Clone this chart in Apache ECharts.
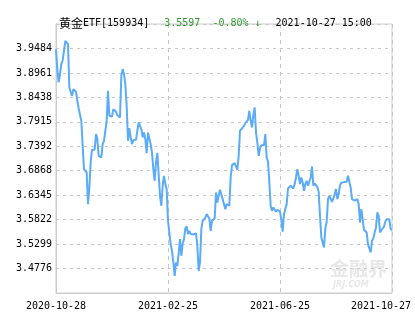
<!DOCTYPE html>
<html>
<head>
<meta charset="utf-8">
<script src="https://cdn.jsdelivr.net/npm/echarts@6/dist/echarts.min.js"></script>
<style>
  html, body { margin: 0; padding: 0; background: #fff; }
  #chart { width: 415px; height: 330px; }
</style>
</head>
<body>
<div id="chart"></div>
<script>
// 收盘价（按交易日）
var prices = [
  3.9470, 3.9042, 3.8757, 3.8935, 3.9149, 3.9227, 3.9242, 3.9648, 3.9627, 3.9577,
  3.8650, 3.8557, 3.8471, 3.8614, 3.8614, 3.8557, 3.8365, 3.8201, 3.8186, 3.7937,
  3.7402, 3.6903, 3.6867, 3.6832, 3.6154, 3.6511, 3.7046, 3.7317, 3.7352, 3.7317,
  3.7652, 3.7545, 3.7188, 3.7167, 3.7153, 3.7438, 3.7509, 3.7723, 3.7937, 3.8578,
  3.8044, 3.8008, 3.8029, 3.8186, 3.8172, 3.8129, 3.8058, 3.8044, 3.8008, 3.8899,
  3.9042, 3.8935, 3.8721, 3.8258, 3.7509, 3.7780, 3.7580, 3.7438, 3.7523, 3.7509,
  3.7530, 3.7723, 3.7901,
  3.7865, 3.7758, 3.7580, 3.7687, 3.7545, 3.7245, 3.7687, 3.7652, 3.7438, 3.7259,
  3.6903, 3.6653, 3.7046, 3.7252, 3.7281, 3.6333, 3.6119, 3.6546, 3.6760, 3.6582,
  3.6475, 3.5798, 3.5762, 3.5299, 3.5156, 3.4907, 3.4621, 3.4907, 3.4835, 3.5106,
  3.5406, 3.5049, 3.5313, 3.5406, 3.5634, 3.5677, 3.5513, 3.5584, 3.5513, 3.5548,
  3.5505, 3.5534, 3.5527, 3.5263, 3.4728, 3.4907, 3.5620, 3.5798, 3.5784, 3.5862,
  3.5940, 3.5947, 3.5848, 3.5584, 3.5798, 3.5819, 3.5848, 3.6404, 3.6190, 3.6333,
  3.6461, 3.6439, 3.6261,
  3.6297, 3.6047, 3.6154, 3.6190, 3.6119, 3.6725, 3.6988, 3.7010, 3.7031, 3.7046,
  3.6889, 3.7188, 3.7723, 3.7758, 3.7787, 3.7830, 3.7887, 3.7915, 3.7958, 3.8151,
  3.7937, 3.7794, 3.8058, 3.8222, 3.7687, 3.7473, 3.7188, 3.7345, 3.7416, 3.7452,
  3.7416, 3.7652, 3.7152, 3.7060, 3.6618, 3.6119, 3.6012, 3.6083, 3.6083, 3.5990,
  3.6033, 3.6047, 3.5990, 3.5819, 3.5563, 3.5940, 3.6047, 3.6154, 3.6489, 3.6475,
  3.6546, 3.6561, 3.6489, 3.6582, 3.6725, 3.6903, 3.6760, 3.6582, 3.6725, 3.6618,
  3.6439, 3.6582, 3.6653,
  3.6546, 3.6632, 3.6718, 3.6960, 3.6546, 3.6596, 3.6589, 3.6518, 3.6418, 3.5905,
  3.5441, 3.5406, 3.5227, 3.5634, 3.5776, 3.6261, 3.6333, 3.6297, 3.6204, 3.6276,
  3.6368, 3.6475, 3.6261, 3.6368, 3.6561, 3.6610, 3.6625, 3.6625, 3.6603, 3.6632,
  3.6760, 3.6725, 3.6511, 3.6261, 3.6247, 3.6226, 3.6261, 3.6261, 3.6154, 3.5762,
  3.6047, 3.6012, 3.5605, 3.5605, 3.5548, 3.5299, 3.5206, 3.5120, 3.5370, 3.5420,
  3.5548, 3.5655, 3.5976, 3.5905, 3.5548, 3.5598, 3.5584, 3.5670, 3.5783, 3.5833,
  3.5848, 3.5833, 3.5620, 3.5597
];

// x 轴刻度日期，每 84 个交易日一个
var dateLabels = ['2020-10-28', '2021-02-25', '2021-06-25', '2021-10-27'];
var labelStep = 84;

// y 轴：最低、最高刻度标签以及中间的间隔数
var yLowTick = 3.4776;
var yHighTick = 3.9484;
var yTickGaps = 9;

var titleName = '黄金';
var titleCode = 'ETF[159934]';
var lastPrice = '3.5597';
var changePct = '-0.80% ↓';
var quoteTime = '2021-10-27 15:00';

var yStep = (yHighTick - yLowTick) / yTickGaps;
var yMin = yLowTick - yStep;
var yMax = yHighTick + yStep;

var categories = [];
for (var i = 0; i < prices.length; i++) {
    categories.push(i % labelStep === 0 ? dateLabels[i / labelStep] : '');
}

var mono = 'DejaVu Sans Mono';
var chart = echarts.init(document.getElementById('chart'));

var option = {
    animation: false,
    title: {
        left: 54,
        top: 9,
        text: '{cn|' + titleName + '}{t|' + titleCode + '}   {g|' + lastPrice + '  ' + changePct + '}   {t|' + quoteTime + '}',
        textStyle: {
            fontWeight: 'normal',
            rich: {
                cn: { fontFamily: 'Noto Sans CJK SC', fontSize: 12, fontWeight: 'normal', color: '#000', lineHeight: 14 },
                t: { fontFamily: mono, fontSize: 10, fontWeight: 'normal', color: '#000', lineHeight: 14 },
                g: { fontFamily: mono, fontSize: 10, fontWeight: 'normal', color: '#2e9a2e', lineHeight: 14 }
            }
        }
    },
    grid: {
        left: 56,
        right: 23,
        top: 24,
        bottom: 37,
        show: true,
        borderColor: '#cccccc',
        borderWidth: 1,
        containLabel: false
    },
    xAxis: {
        type: 'category',
        boundaryGap: false,
        data: categories,
        axisLine: { lineStyle: { color: '#cccccc' } },
        axisTick: { show: false },
        axisLabel: {
            interval: labelStep - 1,
            fontFamily: mono,
            fontSize: 10,
            color: '#000',
            margin: 8,
            formatter: function (v, idx) {
                if (idx === prices.length - 1) return '{last|' + v + '}';
                return v;
            },
            rich: {
                last: { fontFamily: mono, fontSize: 10, color: '#000', padding: [0, 22, 0, 0] }
            }
        },
        splitLine: {
            show: true,
            interval: labelStep - 1,
            lineStyle: { color: '#c8c8c8', type: [4, 4] }
        }
    },
    yAxis: {
        type: 'value',
        min: yMin,
        max: yMax,
        interval: yStep,
        axisLine: { show: true, lineStyle: { color: '#cccccc' } },
        axisTick: { show: false },
        axisLabel: {
            showMinLabel: false,
            showMaxLabel: false,
            fontFamily: mono,
            fontSize: 10,
            color: '#000',
            margin: 4,
            formatter: function (v) {
                if (v < yLowTick - yStep / 2 || v > yHighTick + yStep / 2) return '';
                return (Math.round(v * 10000) / 10000).toFixed(4);
            }
        },
        splitLine: {
            lineStyle: { color: '#c8c8c8', type: [3, 4] }
        }
    },
    graphic: [
        {
            type: 'text',
            left: 330,
            top: 259,
            z: 0,
            style: { text: '金融界', font: 'bold 19px "Noto Sans CJK SC"', fill: '#e8e8e8' }
        },
        {
            type: 'text',
            left: 333,
            top: 281,
            z: 0,
            style: { text: 'JRJ.COM', font: 'italic bold 8px "DejaVu Sans"', fill: '#e8e8e8' }
        }
    ],
    series: [
        {
            type: 'line',
            data: prices,
            showSymbol: false,
            smooth: false,
            lineStyle: { color: '#5aabf8', width: 2 },
            z: 3
        }
    ]
};

chart.setOption(option);
</script>
</body>
</html>
